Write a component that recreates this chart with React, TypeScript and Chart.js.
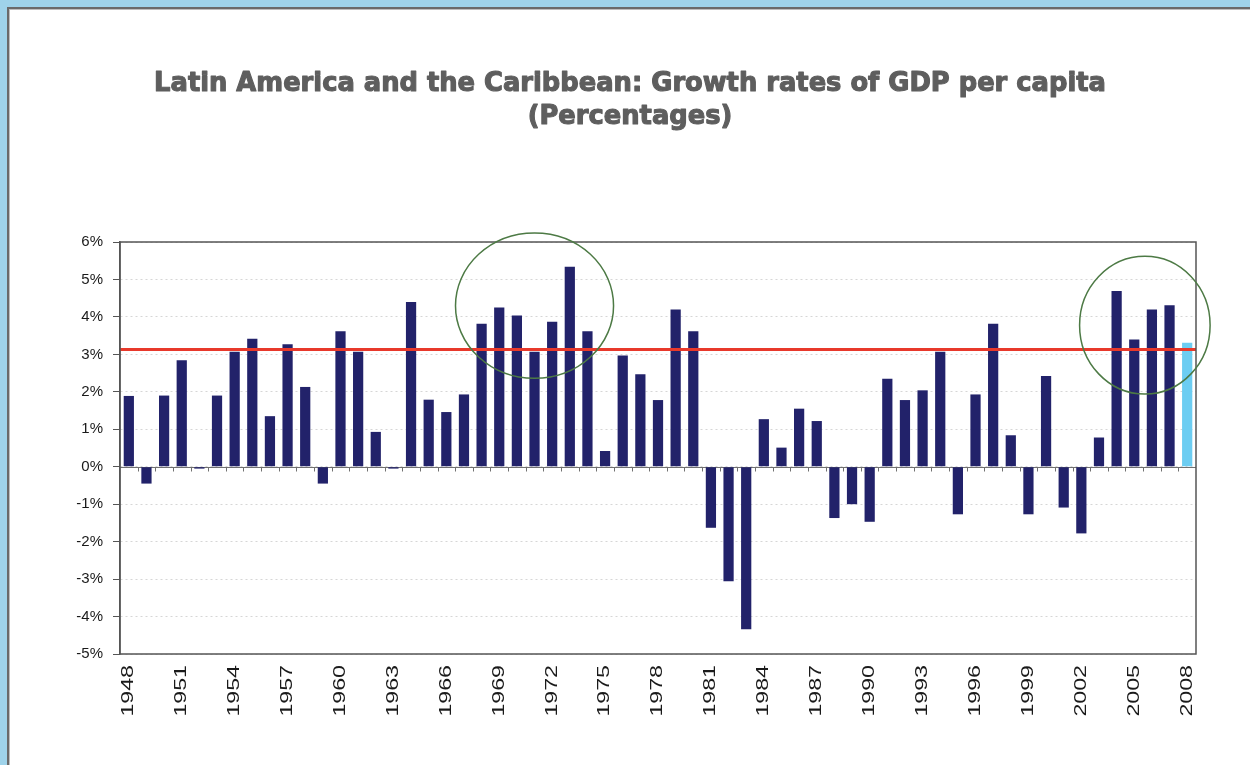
import React, { useEffect, useRef } from 'react';
import { Chart, registerables } from 'chart.js';

Chart.register(...registerables);

const TITLE_LINES = [
  'Latin America and the Caribbean: Growth rates of GDP per capita',
  '(Percentages)',
];

const YEARS = [
  '1948', '1949', '1950', '1951', '1952', '1953', '1954', '1955', '1956', '1957',
  '1958', '1959', '1960', '1961', '1962', '1963', '1964', '1965', '1966', '1967',
  '1968', '1969', '1970', '1971', '1972', '1973', '1974', '1975', '1976', '1977',
  '1978', '1979', '1980', '1981', '1982', '1983', '1984', '1985', '1986', '1987',
  '1988', '1989', '1990', '1991', '1992', '1993', '1994', '1995', '1996', '1997',
  '1998', '1999', '2000', '2001', '2002', '2003', '2004', '2005', '2006', '2007',
  '2008',
];

const GROWTH = [
  1.89, -0.45, 1.9, 2.84, -0.05, 1.9, 3.07, 3.42, 1.35, 3.27,
  2.13, -0.45, 3.62, 3.07, 0.93, -0.05, 4.4, 1.79, 1.46, 1.93,
  3.82, 4.25, 4.04, 3.07, 3.87, 5.34, 3.62, 0.42, 2.97, 2.47,
  1.78, 4.2, 3.62, -1.63, -3.06, -4.34, 1.27, 0.51, 1.55, 1.22,
  -1.37, -1.0, -1.47, 2.35, 1.78, 2.04, 3.07, -1.27, 1.93, 3.82,
  0.84, -1.27, 2.42, -1.09, -1.78, 0.78, 4.69, 3.4, 4.2, 4.31,
  3.31,
];

const AVERAGE = 3.13;
const HIGHLIGHT_YEAR = '2008';
const Y_MIN = -5;
const Y_MAX = 6;
const LABEL_STEP = 3;

// Annotation ellipses: centre (category index, value), radii (categories, value units)
const ELLIPSE_CENTER_X = [23, 57.6];
const ELLIPSE_CENTER_Y = [4.3, 3.78];
const ELLIPSE_RADIUS_X = [4.48, 3.7];
const ELLIPSE_RADIUS_Y = [1.94, 1.84];

const BAR_COLOR = '#22226a';
const HIGHLIGHT_COLOR = '#6ccdf2';

const overlayPlugin = {
  id: 'overlay',
  beforeDatasetsDraw(chart: any) {
    const { ctx, chartArea: a, scales } = chart;
    const x = scales.x;
    const y = scales.y;
    const y0 = Math.round(y.getPixelForValue(0)) + 0.5;
    ctx.save();
    ctx.strokeStyle = '#707070';
    ctx.lineWidth = 1;
    ctx.beginPath();
    ctx.moveTo(a.left, y0);
    ctx.lineTo(a.right, y0);
    for (let i = 1; i < YEARS.length; i++) {
      const px = Math.round((x.getPixelForValue(i - 1) + x.getPixelForValue(i)) / 2) + 0.5;
      ctx.moveTo(px, y0);
      ctx.lineTo(px, y0 + 4);
    }
    ctx.stroke();
    ctx.restore();
  },
  afterDatasetsDraw(chart: any) {
    const { ctx, chartArea: a, scales } = chart;
    const x = scales.x;
    const y = scales.y;
    ctx.save();
    // average line
    const ya = y.getPixelForValue(AVERAGE);
    ctx.strokeStyle = '#e8392b';
    ctx.lineWidth = 3;
    ctx.beginPath();
    ctx.moveTo(a.left, ya);
    ctx.lineTo(a.right, ya);
    ctx.stroke();
    // plot box
    ctx.strokeStyle = '#555555';
    ctx.lineWidth = 1.5;
    ctx.strokeRect(a.left, a.top, a.right - a.left, a.bottom - a.top);
    // ellipses
    const step = x.getPixelForValue(1) - x.getPixelForValue(0);
    const unit = y.getPixelForValue(0) - y.getPixelForValue(1);
    ctx.strokeStyle = '#4d7a45';
    ctx.lineWidth = 1.5;
    for (let k = 0; k < ELLIPSE_CENTER_X.length; k++) {
      const cx = x.getPixelForValue(0) + ELLIPSE_CENTER_X[k] * step;
      const cy = y.getPixelForValue(ELLIPSE_CENTER_Y[k]);
      ctx.beginPath();
      ctx.ellipse(cx, cy, ELLIPSE_RADIUS_X[k] * step, ELLIPSE_RADIUS_Y[k] * unit, 0, 0, Math.PI * 2);
      ctx.stroke();
    }
    ctx.restore();
  },
  afterDraw(chart: any) {
    const { ctx, chartArea: a, scales } = chart;
    const x = scales.x;
    ctx.save();
    // title
    ctx.fillStyle = '#5e5e5e';
    ctx.strokeStyle = '#5e5e5e';
    ctx.lineWidth = 1.1;
    ctx.lineJoin = 'round';
    ctx.textAlign = 'center';
    ctx.textBaseline = 'alphabetic';
    ctx.font = 'bold 20px "DejaVu Sans"';
    const w = ctx.measureText(TITLE_LINES[0]).width;
    const size = (20 * 952) / w;
    ctx.font = `bold ${size.toFixed(2)}px "DejaVu Sans"`;
    ctx.fillText(TITLE_LINES[0], 630, 91);
    ctx.strokeText(TITLE_LINES[0], 630, 91);
    ctx.fillText(TITLE_LINES[1], 630, 124);
    ctx.strokeText(TITLE_LINES[1], 630, 124);
    // x labels
    ctx.fillStyle = '#1a1a1a';
    ctx.font = '16px "Liberation Sans"';
    ctx.textAlign = 'right';
    ctx.textBaseline = 'middle';
    for (let i = 0; i < YEARS.length; i += LABEL_STEP) {
      const px = x.getPixelForValue(i);
      ctx.save();
      ctx.translate(px, a.bottom + 11);
      ctx.rotate(-Math.PI / 2);
      ctx.scale(1.45, 1);
      ctx.fillText(YEARS[i], 0, 0);
      ctx.restore();
    }
    ctx.restore();
  },
};

export default function App() {
  const ref = useRef<HTMLCanvasElement | null>(null);
  useEffect(() => {
    if (!ref.current) return;
    const chart = new Chart(ref.current, {
      type: 'bar',
      data: {
        labels: YEARS,
        datasets: [
          {
            data: GROWTH,
            backgroundColor: YEARS.map((yr) => (yr === HIGHLIGHT_YEAR ? HIGHLIGHT_COLOR : BAR_COLOR)),
            borderWidth: 0,
            categoryPercentage: 1,
            barPercentage: 0.58,
          },
        ],
      },
      options: {
        responsive: false,
        animation: false,
        devicePixelRatio: 1,
        layout: { padding: { top: 242, right: 54, bottom: 0, left: 0 } },
        plugins: { legend: { display: false }, tooltip: { enabled: false }, title: { display: false } },
        scales: {
          x: {
            grid: { display: false },
            border: { display: false },
            ticks: { display: false },
            afterFit: (s: any) => {
              s.height = 111;
            },
          },
          y: {
            min: Y_MIN,
            max: Y_MAX,
            ticks: {
              stepSize: 1,
              padding: 10,
              color: '#1a1a1a',
              font: { family: '"Liberation Sans"', size: 15 },
              callback: (v: any) => `${v}%`,
            },
            grid: {
              color: '#d6d6d6',
              tickColor: '#555555',
              tickBorderDash: [],
              tickLength: 7,
            },
            border: { display: true, color: '#555555', width: 1.5, dash: [2, 3] },
            afterFit: (s: any) => {
              s.width = 120;
            },
          },
        },
      },
      plugins: [overlayPlugin],
    });
    return () => chart.destroy();
  }, []);

  return (
    <div style={{ position: 'fixed', left: 0, top: 0, width: 1250, height: 765, background: '#9fd3ea' }}>
      <div
        style={{
          position: 'absolute',
          left: 7,
          top: 7,
          right: 0,
          bottom: 0,
          background: '#ffffff',
          borderTop: '2px solid #6a6a6a',
          borderLeft: '2px solid #6a6a6a',
          boxShadow: 'inset 1px 1px 0 #bdbdbd',
        }}
      />
      <canvas ref={ref} width={1250} height={765} style={{ position: 'absolute', left: 0, top: 0 }} />
    </div>
  );
}
